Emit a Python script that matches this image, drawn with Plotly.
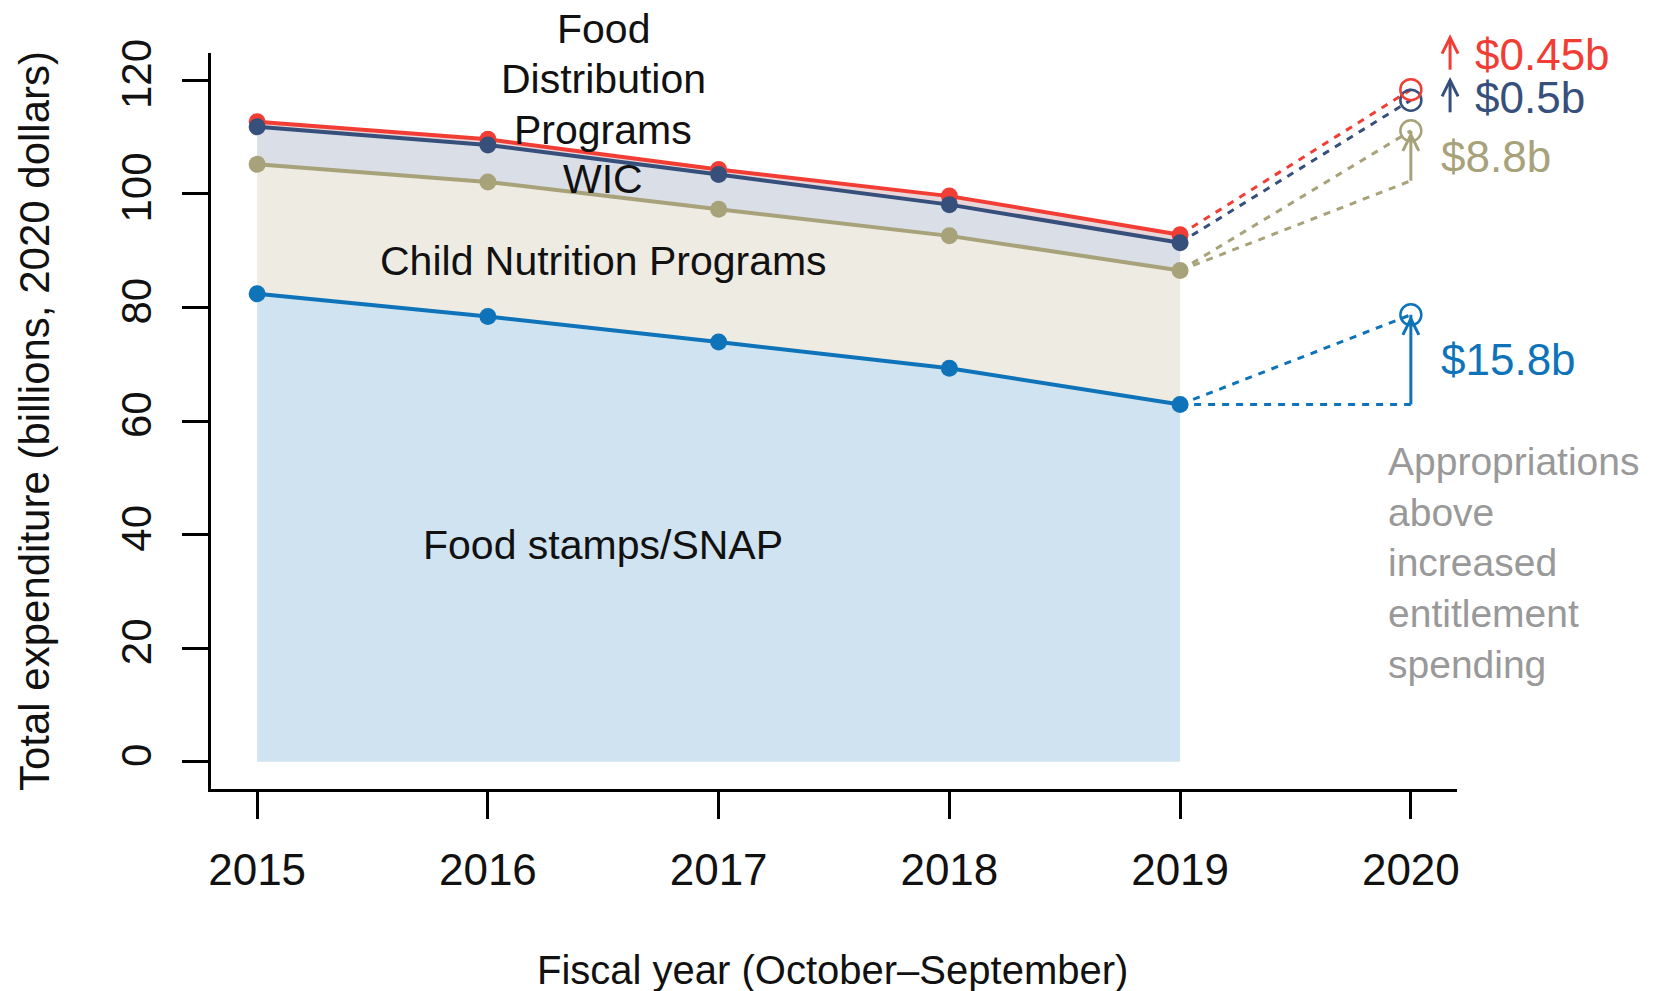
import plotly.graph_objects as go

# ---------------- data ----------------
years = [2015, 2016, 2017, 2018, 2019]
year_2020 = 2020
snap = [82.4, 78.4, 73.9, 69.3, 62.9]                 # Food stamps / SNAP
child_nutrition = [22.8, 23.7, 23.4, 23.3, 23.6]      # Child Nutrition Programs
wic = [6.6, 6.5, 6.1, 5.5, 4.9]                       # WIC
food_distribution = [0.9, 1.0, 0.9, 1.5, 1.4]         # Food Distribution Programs
increase_2020 = [15.8, 8.8, 0.5, 0.45]                # SNAP, CN, WIC, FDP (billions)
increase_labels = ["$15.8b", "$8.8b", "$0.5b", "$0.45b"]
x_ticks = [2015, 2016, 2017, 2018, 2019, 2020]
y_ticks = [0, 20, 40, 60, 80, 100, 120]

# ---------------- styles ----------------
RED = "#F23D35"
NAVY = "#364F7B"
KHAKI = "#A8A27A"
BLUE = "#0F73B9"
GREY = "#999999"
FILL_SNAP = "#CFE3F0"
FILL_CN = "#EEEBE3"
FILL_WIC = "#D9DEE7"
FILL_FDP = "#E9D6D8"
FONT = "Liberation Sans"
INK = "#111111"

Y_RANGE = [-4.8, 124.8]
X_RANGE = [2014.8, 2020.2]


def ypaper(v):
    return (v - Y_RANGE[0]) / (Y_RANGE[1] - Y_RANGE[0])


def xpaper(v):
    return (v - X_RANGE[0]) / (X_RANGE[1] - X_RANGE[0])


# cumulative stacks
cum_snap = snap
cum_cn = [a + b for a, b in zip(cum_snap, child_nutrition)]
cum_wic = [a + b for a, b in zip(cum_cn, wic)]
cum_fdp = [a + b for a, b in zip(cum_wic, food_distribution)]

inc_cum = []
s = 0
for v in increase_2020:
    s += v
    inc_cum.append(s)

fig = go.Figure()

# fills
for ys, col, mode in [(cum_snap, FILL_SNAP, "tozeroy"), (cum_cn, FILL_CN, "tonexty"),
                      (cum_wic, FILL_WIC, "tonexty"), (cum_fdp, FILL_FDP, "tonexty")]:
    fig.add_trace(go.Scatter(x=years, y=ys, mode="lines", fill=mode, fillcolor=col,
                             line=dict(width=0, color=col), hoverinfo="skip"))

DOT = "7px,7px"
last = -1
proj = [
    (cum_snap[last], cum_snap[last] + inc_cum[0], BLUE),
    (cum_cn[last], cum_cn[last] + inc_cum[1], KHAKI),
    (cum_wic[last], cum_wic[last] + inc_cum[2], NAVY),
    (cum_fdp[last], cum_fdp[last] + inc_cum[3], RED),
]
# baseline dotted lines for SNAP and CN
fig.add_trace(go.Scatter(x=[years[last], year_2020], y=[cum_snap[last], cum_snap[last]], mode="lines",
                         line=dict(color=BLUE, width=3, dash=DOT), hoverinfo="skip"))
fig.add_trace(go.Scatter(x=[years[last], year_2020], y=[cum_cn[last], cum_cn[last] + inc_cum[0]], mode="lines",
                         line=dict(color=KHAKI, width=3, dash=DOT), hoverinfo="skip"))
for y0, y1, col in proj:
    fig.add_trace(go.Scatter(x=[years[last], year_2020], y=[y0, y1], mode="lines",
                             line=dict(color=col, width=3, dash=DOT), hoverinfo="skip"))

# solid lines with markers
for ys, col in [(cum_snap, BLUE), (cum_cn, KHAKI), (cum_fdp, RED), (cum_wic, NAVY)]:
    fig.add_trace(go.Scatter(x=years, y=ys, mode="lines+markers",
                             line=dict(color=col, width=4),
                             marker=dict(color=col, size=17), hoverinfo="skip"))

# open circles at 2020
for y0, y1, col in proj:
    fig.add_trace(go.Scatter(x=[year_2020], y=[y1], mode="markers",
                             marker=dict(symbol="circle-open", size=21, color=col, line=dict(width=2.5, color=col)),
                             hoverinfo="skip"))

shapes = []


def chevron(xref, xa, yref, ya, col, tip=0):
    return dict(type="path", xref=xref, yref=yref, xsizemode="pixel", ysizemode="pixel",
                xanchor=xa, yanchor=ya,
                path=f"M -8,{tip-16} L 0,{tip} L 8,{tip-16}",
                line=dict(color=col, width=3))


# big arrows at 2020 (SNAP and CN)
for base, top, col in [(cum_snap[last], cum_snap[last] + inc_cum[0], BLUE),
                       (cum_cn[last] + inc_cum[0], cum_cn[last] + inc_cum[1], KHAKI)]:
    shapes.append(dict(type="line", xref="x", yref="y", x0=year_2020, x1=year_2020, y0=base, y1=top,
                       line=dict(color=col, width=3)))
    shapes.append(chevron("x", year_2020, "y", top, col, tip=-4))

annotations = []
# small arrows + labels for WIC / FDP (paper coords so they are not clipped)
label_px = xpaper(2020.27)
arrow_px = xpaper(2020.17)
for lab, ly, col in [(increase_labels[3], 124.5, RED), (increase_labels[2], 117.0, NAVY)]:
    shapes.append(dict(type="path", xref="paper", yref="paper", xsizemode="pixel", ysizemode="pixel",
                       xanchor=arrow_px, yanchor=ypaper(ly), path="M 0,-15 L 0,17",
                       line=dict(color=col, width=3)))
    shapes.append(chevron("paper", arrow_px, "paper", ypaper(ly), col, tip=17))
    annotations.append(dict(x=label_px, y=ypaper(ly), xref="paper", yref="paper", text=lab, showarrow=False,
                            xanchor="left", yanchor="middle", font=dict(family=FONT, size=44, color=col)))

for lab, ly, col in [(increase_labels[1], 106.65, KHAKI), (increase_labels[0], 70.8, BLUE)]:
    annotations.append(dict(x=2020.12, y=ly, xref="x", yref="y", text=lab, showarrow=False,
                            xanchor="left", yanchor="middle", font=dict(family=FONT, size=44, color=col)))

annotations.append(dict(x=2019.894, y=35.0, xref="x", yref="y",
                        text="Appropriations<br>above<br>increased<br>entitlement<br>spending",
                        showarrow=False, xanchor="left", yanchor="middle", align="left",
                        font=dict(family=FONT, size=39, color=GREY)))

# inner series labels (paper coords so labels above the plot top are kept)
lab_font = dict(family=FONT, size=41, color=INK)
for txt, ly in [("Food", 129.1), ("Distribution", 120.2), ("Programs", 111.3), ("WIC", 102.6),
                ("Child Nutrition Programs", 88.1), ("Food stamps/SNAP", 38.2)]:
    annotations.append(dict(x=xpaper(2016.5), y=ypaper(ly), xref="paper", yref="paper", text=txt,
                            showarrow=False, xanchor="center", yanchor="middle", align="center",
                            font=lab_font))

# axis titles
annotations.append(dict(x=0.499, y=-0.246, xref="paper", yref="paper", text="Fiscal year (October\u2013September)",
                        showarrow=False, xanchor="center", yanchor="middle",
                        font=dict(family=FONT, size=40, color=INK)))
annotations.append(dict(x=-0.142, y=0.5, xref="paper", yref="paper",
                        text="Total expenditure (billions, 2020 dollars)", textangle=-90,
                        showarrow=False, xanchor="center", yanchor="middle",
                        font=dict(family=FONT, size=42, color=INK)))

fig.update_layout(
    width=1645, height=983,
    margin=dict(l=203, r=196, t=45, b=202),
    paper_bgcolor="white", plot_bgcolor="white",
    showlegend=False,
    shapes=shapes, annotations=annotations,
    xaxis=dict(range=X_RANGE, tickvals=x_ticks, ticktext=[str(t) for t in x_ticks],
               showgrid=False, zeroline=False, showline=True, linecolor="black", linewidth=3,
               ticks="outside", ticklen=27, tickwidth=2.5, tickcolor="black",
               tickfont=dict(family=FONT, size=44, color=INK), ticklabelstandoff=13),
    yaxis=dict(range=Y_RANGE, tickvals=y_ticks, showgrid=False, zeroline=False,
               showline=True, linecolor="black", linewidth=3,
               ticks="outside", ticklen=26, tickwidth=2.5, tickcolor="black", tickangle=-90,
               tickfont=dict(family=FONT, size=42, color=INK), ticklabelstandoff=14),
)

fig.write_html("out.html")
